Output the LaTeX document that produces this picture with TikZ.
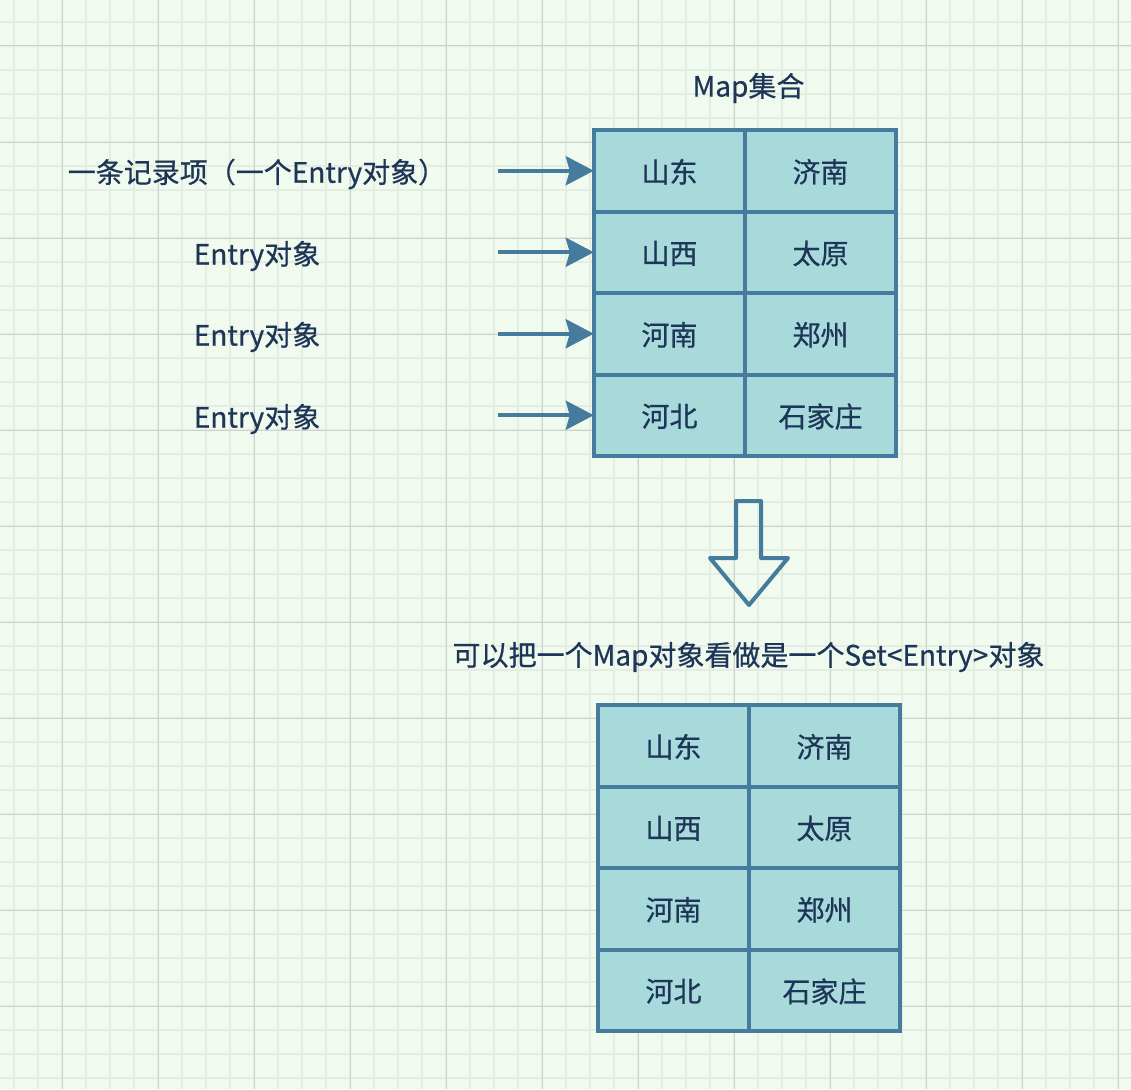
\documentclass[tikz,border=0pt]{standalone}
\usepackage{fontspec}
\usepackage{tikz}
\usetikzlibrary{arrows.meta}
\newfontfamily\cjk{Noto Sans CJK SC}[FakeBold=0.6]
\definecolor{mpInk}{HTML}{1D3557}
\definecolor{mpBlue}{HTML}{457B9D}
\definecolor{mpCell}{HTML}{A8DADC}
\definecolor{mpBg}{HTML}{F1FAEE}
\definecolor{mpGrid}{HTML}{D0D0D0}
\definecolor{mpGridT}{HTML}{E4EDE1}
\tikzset{
  cell/.style ={draw=mpBlue, fill=mpCell, line width=4pt, minimum width=151.5pt, minimum height=81.5pt,
                inner sep=0pt, outer sep=0pt, text depth=0pt, font=\cjk\fontsize{28pt}{32pt}\selectfont, text=mpInk},
  lbl/.style  ={inner sep=0pt, font=\cjk\fontsize{28pt}{32pt}\selectfont, text=mpInk},
  arr/.style  ={-{Stealth[length=28pt,width=29pt,inset=4pt]}, line width=4pt, mpBlue},
  hollow/.style={draw=mpBlue, line width=4pt, line join=round},
}
\begin{document}
\begin{tikzpicture}[x=1pt,y=-1pt]
% ---- canvas ----
\fill[mpBg] (0,0) rectangle (1131,1089);
\useasboundingbox (0,0) rectangle (1131,1089);
\foreach \gx in {14,38,...,1130} \draw[mpGridT,line width=2pt] (\gx,0) -- (\gx,1089);
\foreach \gy in {22,46,...,1088} \draw[mpGridT,line width=2pt] (0,\gy) -- (1131,\gy);
\foreach \gx in {62,158,...,1130} \draw[mpGrid,line width=1pt] (\gx,0) -- (\gx,1089);
\foreach \gy in {46,142,...,1088} \draw[mpGrid,line width=1pt] (0,\gy) -- (1131,\gy);

% ---- Map ----
\node[lbl] (maptitle) at (748.5,88) {Map集合};
\node[cell] (sd) at (669.5,170.75) {山东};
\node[cell] (jn) at (820.5,170.75) {济南};
\node[cell] (sx) at (669.5,252.25) {山西};
\node[cell] (ty) at (820.5,252.25) {太原};
\node[cell] (hn) at (669.5,333.75) {河南};
\node[cell] (zz) at (820.5,333.75) {郑州};
\node[cell] (hb) at (669.5,415.25) {河北};
\node[cell] (sjz) at (820.5,415.25) {石家庄};

% entry labels
\node[lbl] (entry1) at (257,174) {一条记录项（一个Entry对象）};
\node[lbl] (entry2) at (257,256) {Entry对象};
\node[lbl] (entry3) at (257,337) {Entry对象};
\node[lbl] (entry4) at (257,419) {Entry对象};
\coordinate (e1) at (498,170.75);
\coordinate (e2) at (498,252.25);
\coordinate (e3) at (498,333.75);
\coordinate (e4) at (498,415.25);
\draw[arr] (e1) -- (sd.west);
\draw[arr] (e2) -- (sx.west);
\draw[arr] (e3) -- (hn.west);
\draw[arr] (e4) -- (hb.west);

% ---- down arrow ----
\draw[hollow] (736,501) -- (761,501) -- (761,558) -- (788,558) -- (749,605)
              -- (710,558) -- (736,558) -- cycle;

% ---- Set<Entry> ----
\node[lbl] (settitle) at (748.5,657) {可以把一个Map对象看做是一个Set<Entry>对象};
\node[cell] (sd2) at (673.5,745.75) {山东};
\node[cell] (jn2) at (824.5,745.75) {济南};
\node[cell] (sx2) at (673.5,827.25) {山西};
\node[cell] (ty2) at (824.5,827.25) {太原};
\node[cell] (hn2) at (673.5,908.75) {河南};
\node[cell] (zz2) at (824.5,908.75) {郑州};
\node[cell] (hb2) at (673.5,990.25) {河北};
\node[cell] (sjz2) at (824.5,990.25) {石家庄};
\end{tikzpicture}
\end{document}
